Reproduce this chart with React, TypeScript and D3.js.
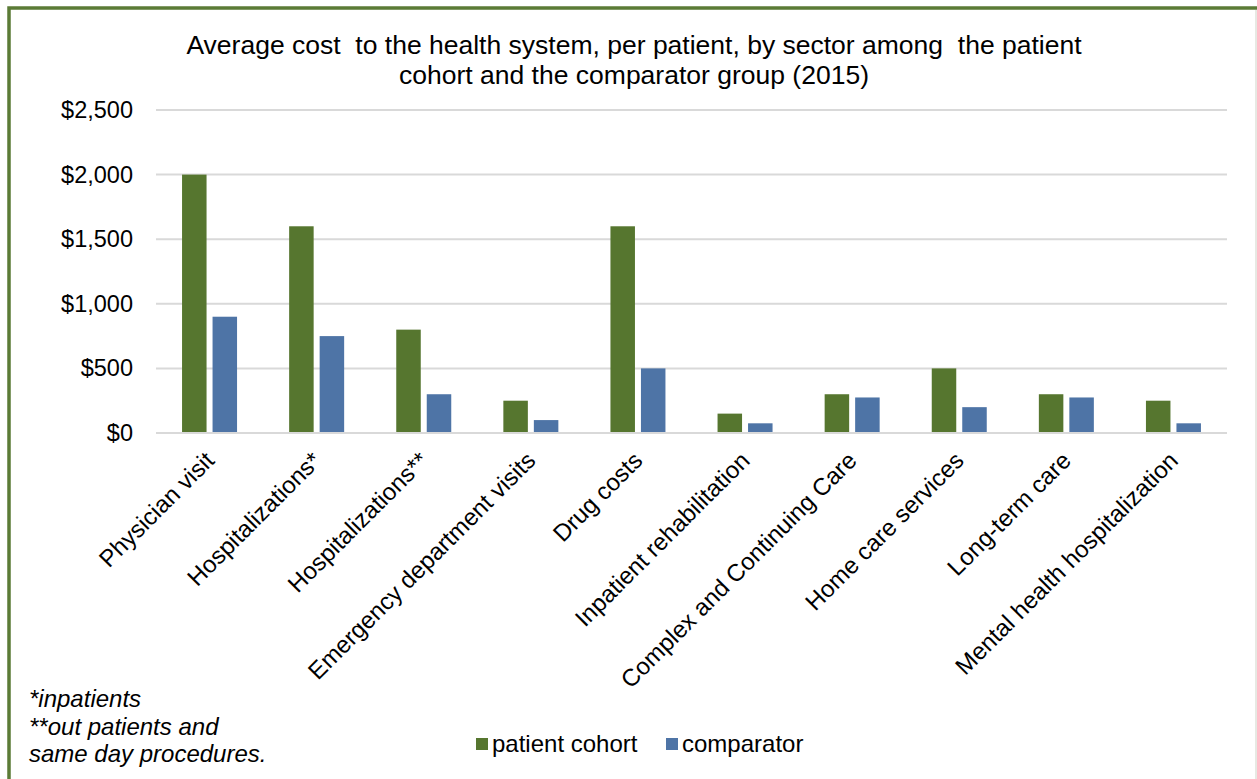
import React from "react";
import * as d3 from "d3";

const categories = [
  "Physician visit",
  "Hospitalizations*",
  "Hospitalizations**",
  "Emergency department visits",
  "Drug costs",
  "Inpatient rehabilitation",
  "Complex and Continuing Care",
  "Home care services",
  "Long-term care",
  "Mental health hospitalization",
];
const cohortValues = [2000, 1600, 800, 250, 1600, 150, 300, 500, 300, 250];
const comparatorValues = [900, 750, 300, 100, 500, 75, 275, 200, 275, 75];
const seriesNames = ["patient cohort", "comparator"];
const yTicks = [0, 500, 1000, 1500, 2000, 2500];
const titleLines = [
  "Average cost  to the health system, per patient, by sector among  the patient",
  "cohort and the comparator group (2015)",
];
const footnotes = ["*inpatients", "**out patients and", "same day procedures."];

const W = 1257;
const H = 779;
const GREEN = "#56762F";
const BLUE = "#4E74A6";
const FONT = "'Liberation Sans', Arial, sans-serif";

export default function App() {
  const left = 156;
  const right = 1227;
  const top = 110;
  const bottom = 433;
  const x = d3.scaleBand<string>().domain(categories).range([left, right]).padding(0);
  const y = d3.scaleLinear().domain([0, 2500]).range([bottom, top]);
  const bw = 24.5;
  const gap = 6;
  const fmt = (v: number) => "$" + d3.format(",")(v);
  const series = [cohortValues, comparatorValues];
  const colors = [GREEN, BLUE];

  return (
    <div style={{ position: "fixed", left: 0, top: 0, width: W, height: H, background: "#fff" }}>
      <svg width={W} height={H} style={{ display: "block" }} fontFamily={FONT}>
        <rect x={0} y={0} width={W} height={H} fill="#fff" />
        <line x1={1256} x2={1256} y1={10} y2={H} stroke="#dfe2da" strokeWidth={1.5} />
        <path d={`M9,${H + 5} L9,8 L${W + 5},8`} fill="none" stroke="#5B7B36" strokeWidth={3.5} />
        {titleLines.map((t, i) => (
          <text key={i} x={634} y={54 + i * 30} textAnchor="middle" fontSize={26.5} fill="#000" style={{ whiteSpace: "pre" }}>
            {t}
          </text>
        ))}
        {yTicks.map((t) => (
          <g key={t}>
            <line x1={left} x2={right} y1={y(t)} y2={y(t)} stroke="#d9d9d9" strokeWidth={2} />
            <text x={133} y={y(t) + 8} textAnchor="end" fontSize={23.5} fill="#000">
              {fmt(t)}
            </text>
          </g>
        ))}
        {categories.map((c, i) => {
          const cx = (x(c) as number) + x.bandwidth() / 2;
          return (
            <g key={c}>
              {series.map((s, k) => {
                const bx = k === 0 ? cx - gap / 2 - bw : cx + gap / 2;
                return (
                  <rect key={k} x={bx} y={y(s[i])} width={bw} height={y(0) - y(s[i])} fill={colors[k]} />
                );
              })}
              <text
                transform={`translate(${cx - 6},${450}) rotate(-45)`}
                textAnchor="end"
                dy="0.71em"
                fontSize={24}
                fill="#000"
              >
                {c}
              </text>
            </g>
          );
        })}
        <line x1={left} x2={right} y1={y(0)} y2={y(0)} stroke="#d9d9d9" strokeWidth={2} />
        {footnotes.map((f, i) => (
          <text key={i} x={29} y={707 + i * 27.5} fontSize={24} fontStyle="italic" fill="#000">
            {f}
          </text>
        ))}
        {seriesNames.map((n, k) => {
          const lx = k === 0 ? 476 : 666;
          return (
            <g key={n}>
              <rect x={lx} y={738} width={12} height={12} fill={colors[k]} />
              <text x={lx + 16} y={752} fontSize={24} fill="#000">
                {n}
              </text>
            </g>
          );
        })}
      </svg>
    </div>
  );
}
